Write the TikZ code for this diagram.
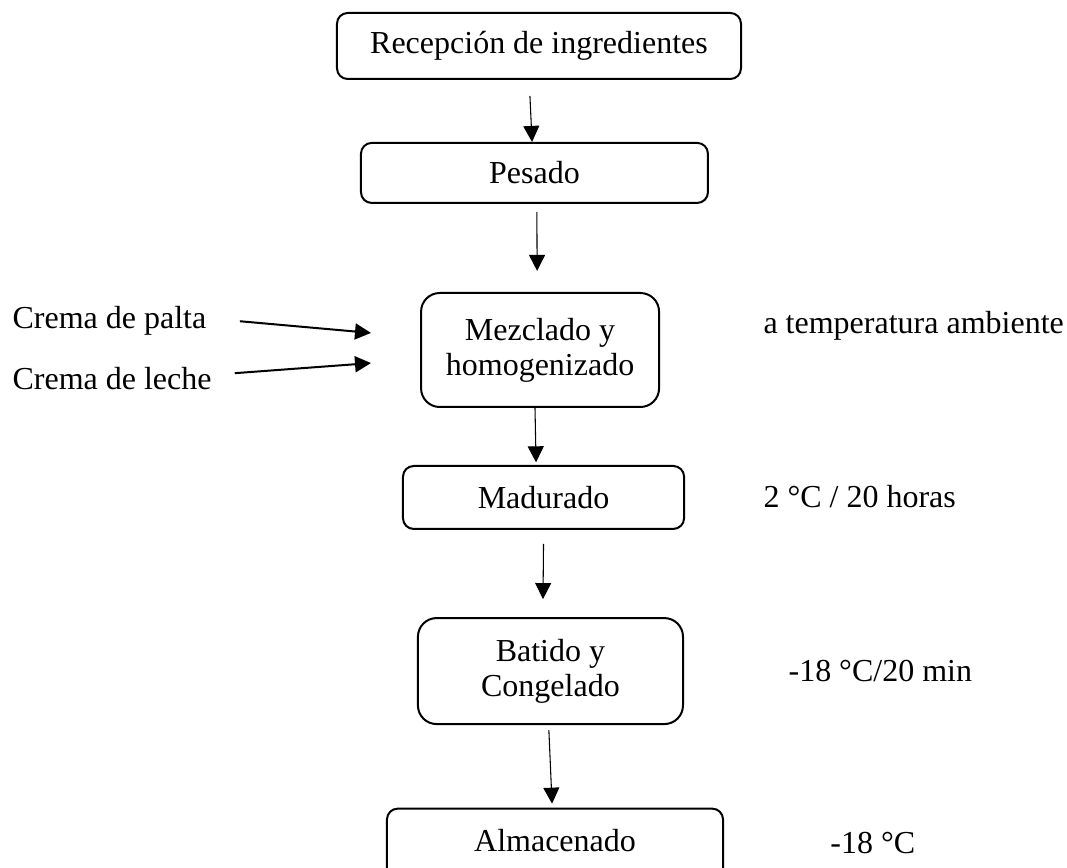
\documentclass[tikz,border=0pt]{standalone}
\usepackage{fontspec}
\setmainfont{Liberation Serif}
\usetikzlibrary{arrows.meta, calc}

\begin{document}
\begin{tikzpicture}[node distance=60pt, every node/.style={font=\fontsize{12pt}{13.1pt}\selectfont}]
% Styles
\tikzstyle{stage} = [rectangle, rounded corners=4pt, text centered, draw=black, line width=0.75pt, align=center, inner sep=2pt]
\tikzstyle{twoline} = [stage, rounded corners=7pt]
\tikzstyle{note} = [inner sep=0pt]
\tikzstyle{arrow} = [line width=0.4pt, -{Triangle[length=6pt, width=6pt]}]
\tikzstyle{feed} = [arrow, line width=0.75pt]

% Frame (bottom box runs off the page)
\path[use as bounding box, clip] (-202.125pt,17.25pt) rectangle (198pt,-308.25pt);

% Nodes
\node (recepcion) [stage, minimum width=151.5pt, minimum height=24.75pt] {Recepción de ingredientes};
\node (pesado) [stage, below of=recepcion, xshift=-1.7pt, yshift=12.4pt, minimum width=130.1pt, minimum height=22.5pt] {Pesado};
\node (mezclado) [twoline, below of=pesado, xshift=2.1pt, yshift=-6.4pt, minimum width=89.25pt, minimum height=42.75pt] {Mezclado y \\ homogenizado};
\node (madurado) [stage, below of=mezclado, xshift=1.3pt, yshift=4.7pt, minimum width=105.4pt, minimum height=23.6pt] {Madurado};
\node (batido) [twoline, below of=madurado, xshift=2.6pt, yshift=-5.1pt, minimum width=99.4pt, minimum height=39.75pt] {Batido y \\ Congelado};
\node (almacenado) [stage, below of=batido, xshift=1.7pt, yshift=-11.6pt, minimum width=126pt, minimum height=40pt, text depth=16.4pt] {Almacenado};

% Side notes
\node (palta) [note, left of=mezclado, anchor=base west, xshift=-138pt, yshift=7.9pt] {Crema de palta};
\node (leche) [note, left of=mezclado, anchor=base west, xshift=-138pt, yshift=-15pt] {Crema de leche};
\node (ambiente) [note, right of=mezclado, anchor=base west, xshift=23.6pt, yshift=6pt] {a temperatura ambiente};
\node (maduracion) [note, right of=madurado, anchor=base west, xshift=22.3pt, yshift=-3.9pt] {2 °C / 20 horas};
\node (congelacion) [note, right of=batido, anchor=base west, xshift=29.1pt, yshift=-4.1pt] {-18 °C/20 min};
\node (conservacion) [note, right of=batido, anchor=base west, xshift=44.8pt, yshift=-68.3pt] {-18 °C};

% Arrows
\draw [arrow] ([xshift=-3.4pt,yshift=-6pt]recepcion.south) -- ([xshift=-0.9pt]pesado.north);
\draw [arrow] ([xshift=0.9pt,yshift=-3pt]pesado.south) -- ([xshift=-1.1pt,yshift=7.9pt]mezclado.north);
\draw [arrow] ([xshift=-1.9pt]mezclado.south) -- ([xshift=-2.8pt,yshift=1pt]madurado.north);
\draw [arrow] ([yshift=-5.25pt]madurado.south) -- ([xshift=-2.8pt,yshift=6.75pt]batido.north);
\draw [arrow] ([xshift=-0.6pt,yshift=-1.9pt]batido.south) -- ([xshift=-1.1pt,yshift=1.5pt]almacenado.north);

% Ingredient inputs
\coordinate[left of=mezclado, xshift=-3.4pt, yshift=6.4pt] (palta_in);
\coordinate[left of=mezclado, xshift=-3.4pt, yshift=-4.9pt] (leche_in);
\draw [feed] ([xshift=12.4pt]palta.east) -- (palta_in);
\draw [feed] ([xshift=8.5pt,yshift=2.2pt]leche.east) -- (leche_in);
\end{tikzpicture}
\end{document}
